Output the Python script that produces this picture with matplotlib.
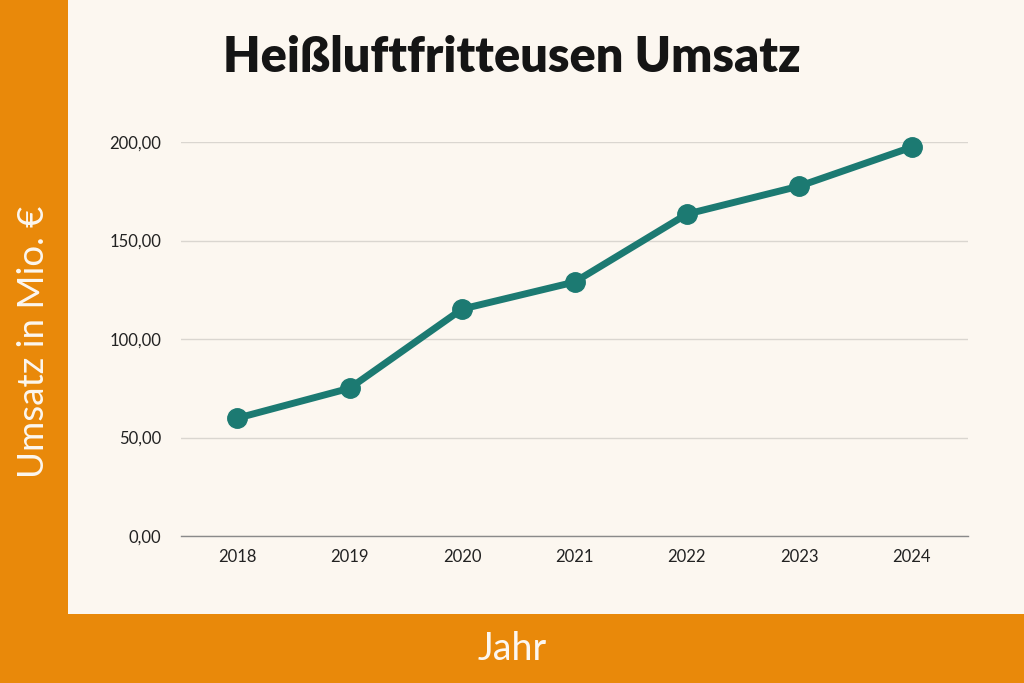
import matplotlib.pyplot as plt
from matplotlib.patches import Rectangle
from matplotlib.ticker import FuncFormatter

years = ['2018', '2019', '2020', '2021', '2022', '2023', '2024']
umsatz = [59.8, 75.0, 115.2, 128.9, 163.4, 177.6, 197.4]
yticks = [0, 50, 100, 150, 200]

orange = '#E9890A'
cream = '#FCF7F0'
teal = '#1C7A72'

plt.rcParams['font.family'] = ['Lato', 'DejaVu Sans']

fig = plt.figure(figsize=(10.24, 6.83), dpi=100)
fig.patch.set_facecolor(cream)

# orange frame: left band and bottom band
fig.add_artist(Rectangle((0, 0), 68 / 1024, 1, transform=fig.transFigure,
                         facecolor=orange, edgecolor='none', zorder=0))
fig.add_artist(Rectangle((0, 0), 1, 69 / 683, transform=fig.transFigure,
                         facecolor=orange, edgecolor='none', zorder=0))

ax = fig.add_axes([181 / 1024, (683 - 536) / 683, (968 - 181) / 1024, (536 - 142) / 683])
ax.set_facecolor('none')

x = list(range(len(years)))
ax.plot(x, umsatz, color=teal, linewidth=5, marker='o', markersize=14,
        solid_capstyle='round', clip_on=False, zorder=3)

ax.set_xlim(-0.5, len(years) - 0.5)
ax.set_ylim(0, 200)
ax.set_xticks(x)
ax.set_xticklabels(years)
ax.set_yticks(yticks)
ax.yaxis.set_major_formatter(FuncFormatter(lambda v, p: f'{v:.2f}'.replace('.', ',')))
ax.tick_params(axis='both', length=0, labelsize=12, colors='#222222')
ax.tick_params(axis='x', pad=9)
ax.tick_params(axis='y', pad=14)

ax.grid(axis='y', color='#DAD6D0', linewidth=1)
ax.set_axisbelow(True)
for s in ['top', 'right', 'left']:
    ax.spines[s].set_visible(False)
ax.spines['bottom'].set_color('#8A8A8A')
ax.spines['bottom'].set_linewidth(1)

fig.text(512 / 1024, 1 - 57 / 683, 'Heißluftfritteusen Umsatz', ha='center', va='center',
         fontsize=35, fontweight='heavy', color='#151515')
fig.text(512 / 1024, 1 - 649 / 683, 'Jahr', ha='center', va='center',
         fontsize=27, color=cream)
fig.text(34 / 1024, 1 - 342 / 683, 'Umsatz in Mio. €', ha='center', va='center',
         rotation=90, fontsize=26.5, color=cream)

fig.savefig('out.png', dpi=100, facecolor=fig.get_facecolor())
